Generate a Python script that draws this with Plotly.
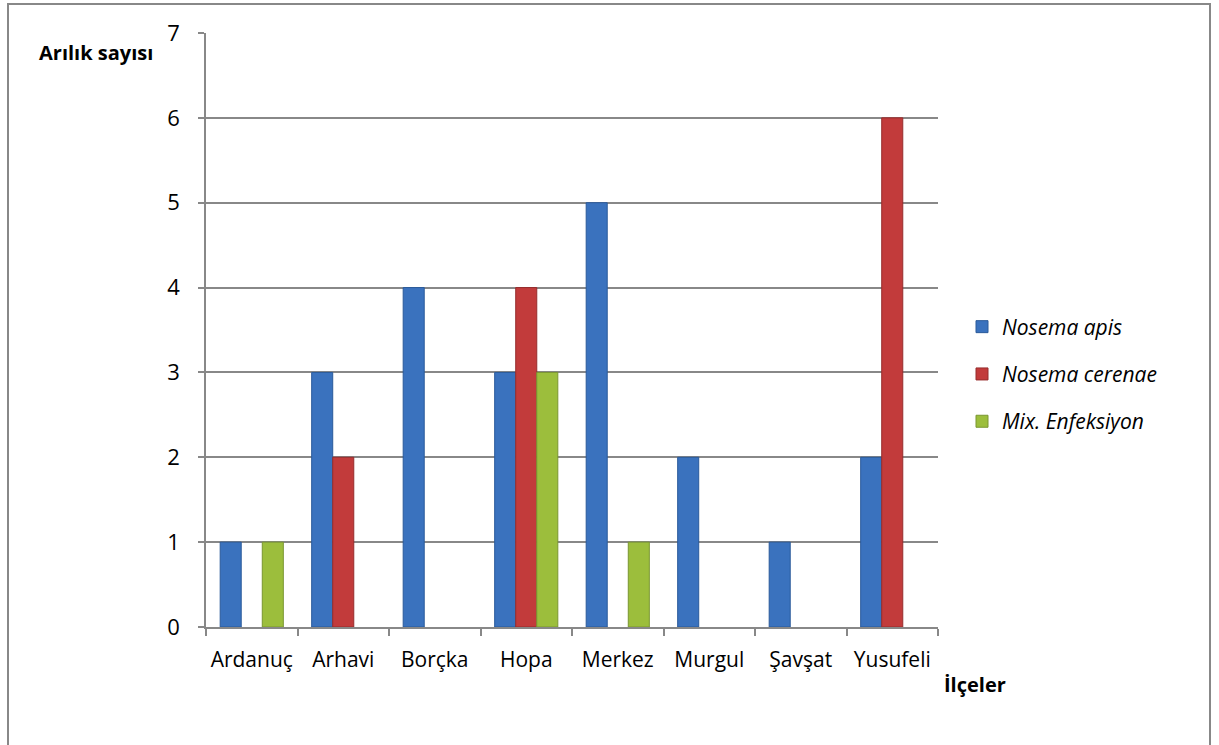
import plotly.graph_objects as go

categories = ["Ardanuç", "Arhavi", "Borçka", "Hopa", "Merkez", "Murgul", "Şavşat", "Yusufeli"]
nosema_apis = [1, 3, 4, 3, 5, 2, 1, 2]
nosema_cerenae = [0, 2, 0, 4, 0, 0, 0, 6]
mix_enfeksiyon = [1, 0, 0, 3, 1, 0, 0, 0]
series_names = ["Nosema apis", "Nosema cerenae", "Mix. Enfeksiyon"]
y_ticks = [0, 1, 2, 3, 4, 5, 6, 7]

colors = ["#3A72BE", "#C23B3B", "#9CBE3C"]
edges = ["#2A5A9A", "#962C2C", "#7A9630"]
series = [nosema_apis, nosema_cerenae, mix_enfeksiyon]

FONT = "Open Sans, sans-serif"

fig = go.Figure()
for name, vals, c, e in zip(series_names, series, colors, edges):
    fig.add_trace(go.Bar(
        x=categories, y=[v if v else None for v in vals], name=name, legendgroup=name,
        marker=dict(color=c, line=dict(color=e, width=1)),
    ))

W, H = 1219, 745
L, R, T, B = 206, 938, 33, 627
def px_x(p):
    return (p - L) / (R - L)
def px_y(p):
    return (B - p) / (B - T)

fig.update_layout(
    width=W, height=H,
    margin=dict(l=L, r=W - R, t=T, b=H - B),
    paper_bgcolor="white", plot_bgcolor="white",
    barmode="group", bargap=0.31, bargroupgap=0,
    font=dict(family=FONT, size=22, color="#000000"),
    showlegend=True,
    legend=dict(
        x=px_x(962), y=px_y(374), xanchor="left", yanchor="middle",
        font=dict(size=21, family=FONT, style="italic"),
        tracegroupgap=17, bgcolor="rgba(0,0,0,0)",
    ),
    xaxis=dict(
        showgrid=False, showline=True, linecolor="#888888", linewidth=1.5,
        ticks="outside", ticklen=7, tickcolor="#888888", tickwidth=1.5,
        tickson="boundaries", tickfont=dict(size=21, family=FONT),
        ticklabelstandoff=13, tickangle=0,
        range=[-0.5, 7.5],
    ),
    yaxis=dict(
        range=[0, 7], tickvals=y_ticks, showgrid=True, gridcolor="#888888", gridwidth=1.5,
        showline=True, linecolor="#888888", linewidth=1.5,
        ticks="outside", ticklen=6, tickcolor="#888888", tickwidth=1.5,
        tickfont=dict(size=22, family=FONT), zeroline=False,
        ticklabelstandoff=14,
    ),
    shapes=[dict(type="rect", xref="paper", yref="paper",
                 x0=px_x(8), x1=px_x(1210), y0=px_y(770), y1=px_y(4),
                 line=dict(color="#888888", width=2), fillcolor="rgba(0,0,0,0)", layer="below")],
    annotations=[
        dict(text="<b>Arılık sayısı</b>", xref="paper", yref="paper",
             x=px_x(37), y=px_y(53), xanchor="left", yanchor="middle",
             showarrow=False, font=dict(size=20, family=FONT)),
        dict(text="<b>İlçeler</b>", xref="paper", yref="paper",
             x=px_x(942), y=px_y(684), xanchor="left", yanchor="middle",
             showarrow=False, font=dict(size=20, family=FONT)),
    ],
)

fig.write_html("out.html")
